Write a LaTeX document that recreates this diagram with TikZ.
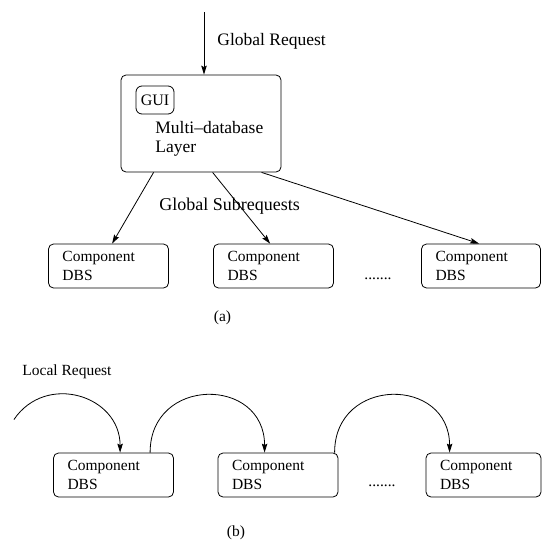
\documentclass[tikz,border=0pt]{standalone}
\usepackage{fontspec}
\setmainfont{Liberation Serif}
\usetikzlibrary{arrows.meta}
\begin{document}
\begin{tikzpicture}[x=1pt,y=-1pt,
  line width=0.8pt,
  arr/.style={-{Stealth[length=9pt,width=5.5pt,inset=1.5pt]}},
  box/.style={draw, rounded corners=5pt, inner sep=0pt},
  bigf/.style={font=\fontsize{17.5}{19}\selectfont},
  smallf/.style={font=\fontsize{15.5}{18.5}\selectfont},
  comp/.style={box, smallf, align=left, minimum height=44pt, inner xsep=14pt, text width=#1},
  comp/.default=92pt,
  lbl/.style={inner sep=0pt, anchor=west}]
\useasboundingbox (0,0) rectangle (542,541);
% (a)
\coordinate (gtop) at (204,12);
\node[box, minimum width=160pt, minimum height=97pt] (main) at (201,123.5) {};
\node[box, rounded corners=6pt, minimum width=38pt, minimum height=28pt, font=\fontsize{16}{19}\selectfont] (gui) at (155,100) {GUI};
\node[lbl, bigf, align=left] (mdl) at (155,139) {Multi–database\\Layer};
\node[lbl, bigf] (greq) at (217,41) {Global Request};
\node[lbl, font=\fontsize{18}{20}\selectfont] (gsub) at (159,206) {Global Subrequests};
\node[comp] (c1) at (108.5,266) {Component\\DBS};
\node[comp] (c2) at (273.5,266) {Component\\DBS};
\node[comp=91pt] (c3) at (481,266) {Component\\DBS};
\node[smallf, inner sep=0pt, anchor=base] (dotsa) at (378,279) {.......};
\node[smallf, inner sep=0pt] (la) at (222.5,318) {(a)};
\draw[arr] (gtop) -- (gtop |- main.north);
\draw[arr] ([xshift=33pt]main.south west) -- ([xshift=64pt]c1.north west);
\draw[arr] ([xshift=92pt]main.south west) -- ([xshift=57pt]c2.north west);
\draw[arr] ([xshift=141pt]main.south west) -- ([xshift=58pt]c3.north west);
% (b)
\node[lbl, smallf] (lreq) at (22,372) {Local Request};
\node[comp] (d1) at (113.5,475) {Component\\DBS};
\node[comp] (d2) at (278,475) {Component\\DBS};
\node[comp=87pt] (d3) at (483.5,475) {Component\\DBS};
\node[smallf, inner sep=0pt, anchor=base] (dotsb) at (382,486) {.......};
\node[smallf, inner sep=0pt] (lb) at (236,533) {(b)};
\coordinate (lstart) at (13.9,419.6);
\draw[arr] (lstart) .. controls (45.9,372.2) and +(0,-57.2) .. ([xshift=67pt]d1.north west);
\draw[arr] ([xshift=97pt]d1.north west) .. controls +(0,-76.5) and +(0,-76.5) .. ([xshift=47pt]d2.north west);
\draw[arr] ([xshift=117pt]d2.north west) .. controls +(0,-76.5) and +(0,-76.5) .. ([xshift=24pt]d3.north west);
\end{tikzpicture}
\end{document}
